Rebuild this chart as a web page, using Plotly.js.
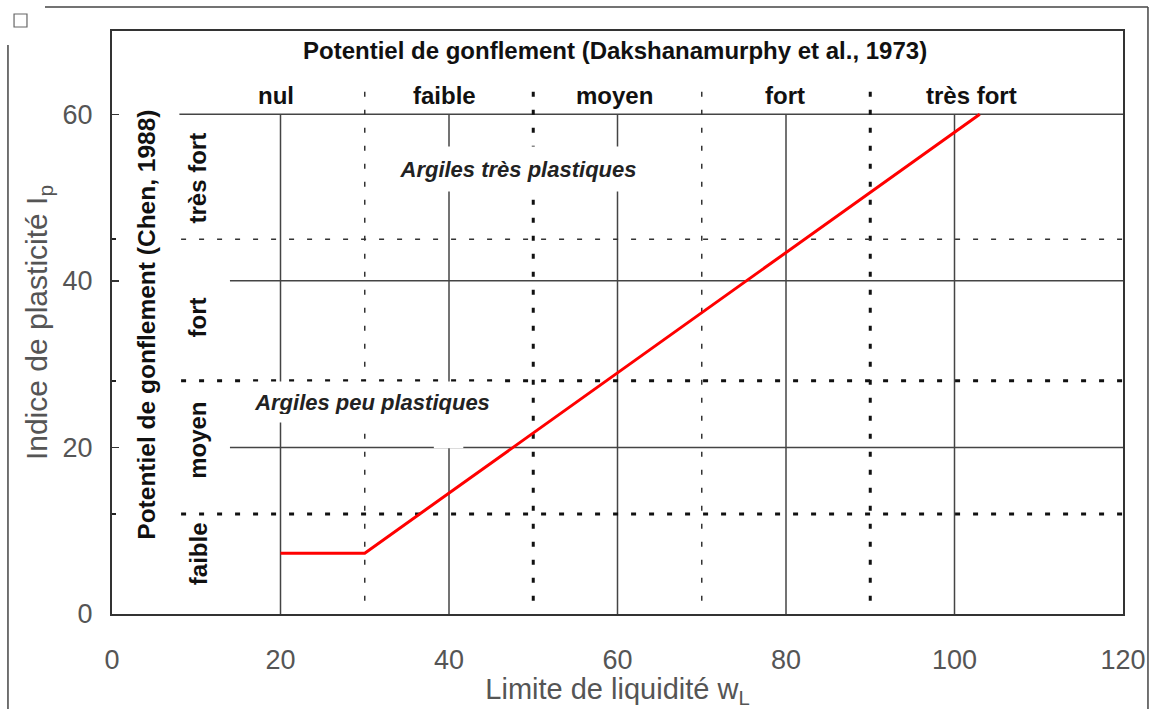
<!DOCTYPE html>
<html>
<head>
<meta charset="utf-8">
<script src="https://cdn.plot.ly/plotly-3.0.1.min.js"></script>
<style>html,body{margin:0;padding:0;background:#fff;}#chart{width:1152px;height:709px;}</style>
</head>
<body>
<div id="chart"></div>
<script>
// ---- data ----
const wL = [20, 30, 103];          // liquid limit (A-line, Casagrande)
const Ip = [7.3, 7.3, 60];         // plasticity index
const xTicks = [0, 20, 40, 60, 80, 100, 120];
const yTicks = [0, 20, 40, 60];
const gridX = [20, 40, 60, 80, 100];
const gridY = [20, 40, 60];
const dakshBounds = [30, 50, 70, 90];
const chenBounds = [12, 28, 45];
const dakshLabels = ['nul', 'faible', 'moyen', 'fort', 'très fort'];
const chenLabels = ['faible', 'moyen', 'fort', 'très fort'];

// ---- styles / layout constants ----
const FONT = 'Liberation Sans, Arial, sans-serif';
const solid = {color: '#444', width: 1.5};
const thinDash = {color: '#333', width: 1.5, dash: '5px,13px'};
const boldDot = {color: '#111', width: 3, dash: '5px,13px'};
const vStyles = [thinDash, boldDot, thinDash, boldDot];
const hStyles = [boldDot, boldDot, thinDash];
const hStart = {20: 14, 40: 14, 60: 8};
const dakshLabelX = [19.5, 39.5, 59.7, 79.9, 102];
const chenLabelY = [7.3, 20.9, 35.6, 52.4];

const shapes = [];
gridX.forEach(v => shapes.push({type: 'line', xref: 'x', yref: 'y', x0: v, x1: v, y0: 0, y1: 60, line: solid, layer: 'below'}));
gridY.forEach(v => shapes.push({type: 'line', xref: 'x', yref: 'y', x0: hStart[v], x1: 120, y0: v, y1: v, line: solid, layer: 'below'}));
dakshBounds.forEach((v, i) => shapes.push({type: 'line', xref: 'x', yref: 'y', x0: v, x1: v, y0: 1.6, y1: 64, line: vStyles[i], layer: 'below'}));
chenBounds.forEach((v, i) => shapes.push({type: 'line', xref: 'x', yref: 'y', x0: 8.2, x1: 120, y0: v, y1: v, line: hStyles[i], layer: 'below'}));
// white mask (blank box in the original)
shapes.push({type: 'rect', xref: 'x', yref: 'y', x0: 38.2, x1: 41.7, y0: 19.9, y1: 27.5, fillcolor: '#fff', line: {width: 0}, layer: 'below'});
// outer page frame
const fr = {color: '#444', width: 1.5};
shapes.push({type: 'line', xref: 'paper', yref: 'paper', x0: -0.0663, x1: 1.0247, y0: 1.0412, y1: 1.0412, line: fr});
shapes.push({type: 'line', xref: 'paper', yref: 'paper', x0: 1.0247, x1: 1.0247, y0: 1.0412, y1: -0.17, line: fr});
shapes.push({type: 'line', xref: 'paper', yref: 'paper', x0: -0.1029, x1: -0.1029, y0: 0.976, y1: -0.17, line: fr});
shapes.push({type: 'rect', xref: 'paper', yref: 'paper', x0: -0.0969, x1: -0.0841, y0: 1.0069, y1: 1.0292, line: {color: '#666', width: 1.2}, fillcolor: 'rgba(0,0,0,0)'});

const bold = (size) => ({family: FONT, size: size, color: '#111', weight: 'bold'});
const annotations = [];
annotations.push({x: 59.7, y: 67.7, xref: 'x', yref: 'y', text: 'Potentiel de gonflement (Dakshanamurphy et al., 1973)', showarrow: false, font: bold(24)});
dakshLabels.forEach((t, i) => annotations.push({x: dakshLabelX[i], y: 62.2, xref: 'x', yref: 'y', text: t, showarrow: false, font: bold(24)}));
annotations.push({x: 4.0, y: 34.7, xref: 'x', yref: 'y', text: 'Potentiel de gonflement (Chen, 1988)', textangle: -90, showarrow: false, font: bold(24.5)});
chenLabels.forEach((t, i) => annotations.push({x: 10.2, y: chenLabelY[i], xref: 'x', yref: 'y', text: t, textangle: -90, showarrow: false, font: bold(24)}));
annotations.push({x: 48.2, y: 53.4, xref: 'x', yref: 'y', text: 'Argiles très plastiques', showarrow: false,
  font: {family: FONT, size: 22, color: '#222', weight: 'bold', style: 'italic'}, bgcolor: '#fff', width: 282, height: 28, borderpad: 8});
annotations.push({x: 30.9, y: 25.4, xref: 'x', yref: 'y', text: 'Argiles peu plastiques', showarrow: false,
  font: {family: FONT, size: 22, color: '#222', weight: 'bold', style: 'italic'}, bgcolor: '#fff', width: 246, height: 24, borderpad: 8});

const trace = {x: wL, y: Ip, type: 'scatter', mode: 'lines', line: {color: '#ff0000', width: 3}, hoverinfo: 'skip', showlegend: false};

const layout = {
  width: 1152, height: 709,
  margin: {l: 112, r: 29, t: 31, b: 95},
  paper_bgcolor: '#fff', plot_bgcolor: '#fff',
  font: {family: FONT},
  showlegend: false,
  xaxis: {
    range: [0, 120], tickvals: xTicks, ticktext: xTicks.map(String), ticks: '',
    showgrid: false, zeroline: false, showline: true, mirror: true, linecolor: '#333', linewidth: 2,
    tickfont: {family: FONT, size: 27, color: '#555'}, ticklabelstandoff: 21,
    title: {text: 'Limite de liquidité w<sub>L</sub>', font: {family: FONT, size: 29, color: '#555'}, standoff: 9}
  },
  yaxis: {
    range: [0, 70], tickvals: yTicks, ticktext: yTicks.map(String), ticks: 'inside', ticklen: 7, tickwidth: 1.5, tickcolor: '#333',
    minor: {tickvals: chenBounds, ticks: 'inside', ticklen: 4, tickwidth: 2.5, tickcolor: '#222', showgrid: false},
    showgrid: false, zeroline: false, showline: true, mirror: true, linecolor: '#333', linewidth: 2,
    tickfont: {family: FONT, size: 27, color: '#555'}, ticklabelstandoff: 12,
    title: {text: 'Indice de plasticité I<sub>p</sub>', font: {family: FONT, size: 30, color: '#555'}, standoff: 6}
  },
  shapes: shapes,
  annotations: annotations
};

Plotly.newPlot('chart', [trace], layout, {displayModeBar: false, staticPlot: true});
</script>
</body>
</html>
